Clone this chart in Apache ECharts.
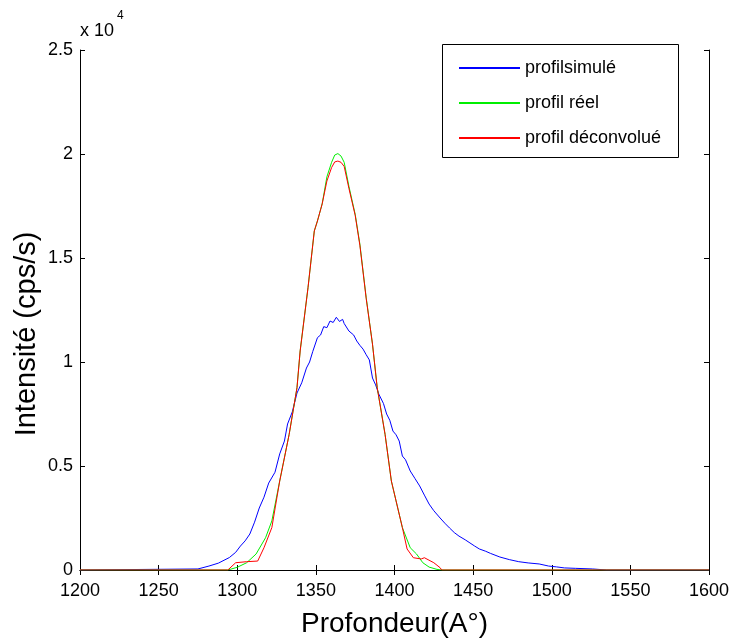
<!DOCTYPE html>
<html>
<head>
<meta charset="utf-8">
<script src="https://cdn.jsdelivr.net/npm/echarts@6/dist/echarts.min.js"></script>
<style>
html,body{margin:0;padding:0;background:#fff;}
#chart{width:730px;height:643px;}
</style>
</head>
<body>
<div id="chart"></div>
<script>
// ---- data ----
var seriesNames = ['profilsimulé', 'profil réel', 'profil déconvolué'];

var simX = [1200, 1275, 1282, 1288, 1295, 1299, 1302, 1305, 1308, 1311, 1314, 1317, 1320, 1324, 1327, 1330, 1332, 1335, 1338, 1341, 1344, 1346, 1348, 1351, 1353, 1355, 1357, 1359, 1361, 1363, 1365, 1367, 1368, 1371, 1374, 1376, 1378, 1380, 1382, 1384, 1386, 1388, 1390, 1393, 1395, 1397, 1399, 1401, 1403, 1405, 1407, 1410, 1413, 1416, 1419, 1422, 1425, 1429, 1432, 1435, 1438, 1441, 1445, 1448, 1451, 1454, 1458, 1461, 1467, 1473, 1479, 1485, 1492, 1498, 1503, 1508, 1515, 1526, 1535, 1600];
var simY = [0, 50, 190, 330, 600, 850, 1150, 1400, 1730, 2300, 2980, 3500, 4180, 4700, 5580, 6200, 7020, 7600, 8510, 9000, 9710, 10000, 10500, 11170, 11300, 11700, 11650, 11970, 11900, 12150, 11950, 12050, 11850, 11490, 11300, 11010, 10800, 10620, 10350, 10100, 9230, 8900, 8460, 8000, 7500, 7200, 6680, 6500, 6200, 5480, 5300, 4760, 4400, 4040, 3600, 3170, 2850, 2500, 2250, 2020, 1800, 1630, 1450, 1300, 1150, 1010, 900, 800, 625, 500, 400, 340, 290, 190, 150, 100, 80, 50, 0, 0];

var realX = [1200, 1294, 1300, 1306, 1312, 1318, 1322, 1327, 1333, 1338, 1340, 1345, 1349, 1351, 1354, 1357, 1360, 1362, 1364, 1366, 1368, 1371, 1375, 1378, 1382, 1386, 1389, 1394, 1398, 1401, 1405, 1410, 1414, 1418, 1422, 1427, 1430, 1600];
var realY = [0, 0, 130, 350, 770, 1550, 2360, 4280, 6520, 8770, 10530, 13570, 16300, 16780, 17600, 18900, 19600, 19950, 20020, 19900, 19600, 18450, 17100, 15660, 13090, 10860, 8770, 6520, 4280, 3320, 2040, 1070, 770, 350, 140, 30, 0, 0];

var deconvX = [1200, 1294, 1299, 1306, 1313, 1317, 1322, 1327, 1333, 1338, 1340, 1345, 1349, 1351, 1354, 1357, 1360, 1362, 1364, 1366, 1368, 1371, 1375, 1378, 1382, 1386, 1389, 1394, 1398, 1401, 1405, 1408, 1412, 1417, 1419, 1425, 1429, 1430, 1600];
var deconvY = [0, 0, 350, 400, 430, 1070, 2040, 4280, 6520, 8770, 10530, 13570, 16300, 16780, 17600, 18700, 19350, 19620, 19660, 19600, 19400, 18350, 17050, 15600, 13050, 10860, 8770, 6520, 4280, 3320, 2040, 1010, 590, 530, 590, 350, 110, 0, 0];

var xTicks = [1200, 1250, 1300, 1350, 1400, 1450, 1500, 1550, 1600];
var yTickLabels = ['0', '0.5', '1', '1.5', '2', '2.5'];

// ---- chart ----
function pairs(xs, ys) { return xs.map(function (x, i) { return [x, ys[i]]; }); }

var FONT = "'Liberation Sans', Arial, sans-serif";
var chart = echarts.init(document.getElementById('chart'), null, {renderer: 'canvas'});

var axisCommon = {
  axisLine: {show: true, lineStyle: {color: '#000', width: 1}},
  axisTick: {show: true, inside: true, length: 5, lineStyle: {color: '#000'}},
  splitLine: {show: false}
};

var option = {
  backgroundColor: '#fff',
  animation: false,
  grid: {left: 80, right: 21, top: 50, bottom: 73, containLabel: false, outerBoundsMode: 'none'},
  xAxis: [
    Object.assign({
      type: 'value', min: 1200, max: 1600, interval: 50, position: 'bottom',
      name: 'Profondeur(A°)', nameLocation: 'middle', nameGap: 40,
      nameTextStyle: {fontFamily: FONT, fontSize: 28, color: '#000'},
      axisLabel: {fontFamily: FONT, fontSize: 18, color: '#000', margin: 12,
        formatter: function (v) { return xTicks.indexOf(v) >= 0 ? String(v) : ''; }}
    }, axisCommon),
    Object.assign({
      type: 'value', min: 1200, max: 1600, interval: 50, position: 'top',
      axisLabel: {show: false}
    }, axisCommon)
  ],
  yAxis: [
    Object.assign({
      type: 'value', min: 0, max: 25000, interval: 5000, position: 'left',
      axisLabel: {fontFamily: FONT, fontSize: 18, color: '#000', margin: 7,
        formatter: function (v) { return yTickLabels[Math.round(v / 5000)]; }}
    }, axisCommon),
    Object.assign({
      type: 'value', min: 0, max: 25000, interval: 5000, position: 'right',
      axisLabel: {show: false}
    }, axisCommon)
  ],
  legend: {
    orient: 'vertical', left: 454, top: 54,
    itemWidth: 61, itemHeight: 2, itemGap: 17,
    icon: 'rect',
    textStyle: {fontFamily: FONT, fontSize: 18, color: '#000', padding: [0, 0, 0, 0]},
    data: seriesNames,
    z: 10
  },
  graphic: [
    {type: 'rect', left: 442, top: 44, z: 5,
      shape: {width: 236, height: 113},
      style: {fill: '#fff', stroke: '#000', lineWidth: 1}},
    {type: 'text', left: 80, top: 22,
      style: {text: 'x 10', fontFamily: FONT, fontSize: 18, fill: '#000'}},
    {type: 'text', left: 117, top: 10,
      style: {text: '4', fontFamily: FONT, fontSize: 12, fill: '#000'}},
    {type: 'text', x: 27, y: 334, rotation: Math.PI / 2,
      style: {text: 'Intensité (cps/s)', fontFamily: FONT, fontSize: 29,
        fill: '#000', align: 'center', verticalAlign: 'middle'}}
  ],
  series: [
    {name: seriesNames[0], type: 'line', data: pairs(simX, simY), symbol: 'none',
      lineStyle: {color: '#0000ff', width: 1}, itemStyle: {color: '#0000ff'}, z: 2},
    {name: seriesNames[1], type: 'line', data: pairs(realX, realY), symbol: 'none',
      lineStyle: {color: '#00ee00', width: 1}, itemStyle: {color: '#00ee00'}, z: 3},
    {name: seriesNames[2], type: 'line', data: pairs(deconvX, deconvY), symbol: 'none',
      lineStyle: {color: '#ff0000', width: 1}, itemStyle: {color: '#ff0000'}, z: 4}
  ]
};
chart.setOption(option);
</script>
</body>
</html>
